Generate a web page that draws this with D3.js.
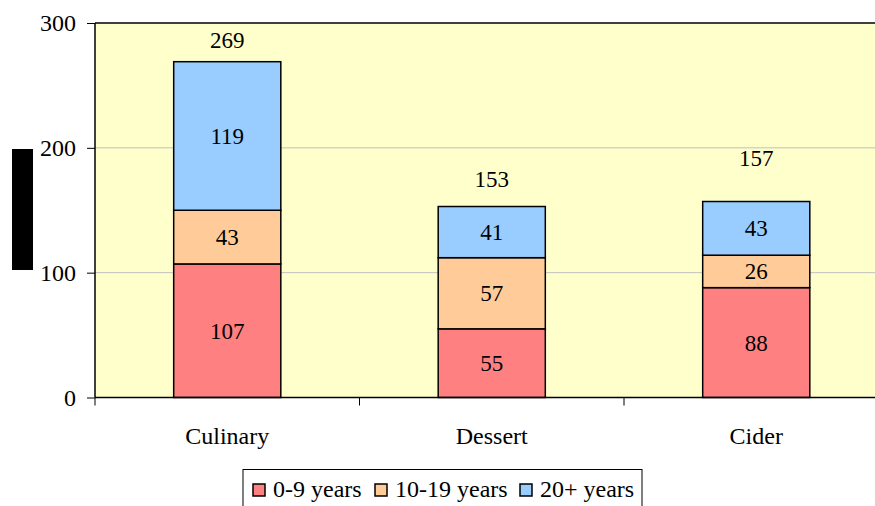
<!DOCTYPE html>
<html>
<head>
<meta charset="UTF-8"/>
<script src="https://d3js.org/d3.v7.min.js"></script>
</head>
<body style="margin:0">
<svg id="chart" width="875" height="506"></svg>
<script>
// chart data
var categories = ["Culinary", "Dessert", "Cider"];
var seriesNames = ["0-9 years", "10-19 years", "20+ years"];
var young = [107, 55, 88];
var middle = [43, 57, 26];
var old = [119, 41, 43];
var totals = [269, 153, 157];
var yTicks = [0, 100, 200, 300];

var colors = ["#FF8080", "#FFCC99", "#99CCFF"];
// how far above each bar top the total label sits (px)
var totalGap = [22, 28, 44];
var FONT = "Liberation Serif";

var svg = d3.select("#chart");
var plotL = 95, plotT = 23, plotB = 397.5, plotR = 888.5;

var x = d3.scaleBand().domain(categories).range([plotL, plotR]).paddingInner(0).paddingOuter(0);
var y = d3.scaleLinear().domain([0, 300]).range([plotB, plotT]);
var barW = x.bandwidth() * 0.405;

// helper: plain text straight on the svg
function label(px, py, str, size, anchor) {
  return svg.append("text")
    .attr("x", px).attr("y", py)
    .attr("font-family", FONT)
    .attr("font-size", size)
    .attr("text-anchor", anchor || "start")
    .text(str);
}

// plot background
svg.append("rect")
  .attr("x", plotL).attr("y", plotT)
  .attr("width", 875 - plotL).attr("height", plotB - plotT)
  .attr("fill", "#FFFFCC");

// gridlines
svg.selectAll(".grid").data(yTicks.filter(function(d){ return d > 0 && d < 300; }))
  .enter().append("line")
  .attr("x1", plotL).attr("x2", 875)
  .attr("y1", function(d){ return y(d); }).attr("y2", function(d){ return y(d); })
  .attr("stroke", "#c0c0c0").attr("stroke-width", 1);

// top border
svg.append("line").attr("x1", plotL).attr("x2", 875)
  .attr("y1", plotT).attr("y2", plotT).attr("stroke", "#000").attr("stroke-width", 1.5);

// stacked bars
var rows = categories.map(function(c, i){
  return { a: young[i], b: middle[i], c: old[i] };
});
var layers = d3.stack().keys(["a", "b", "c"])(rows);

layers.forEach(function(layer, li){
  layer.forEach(function(seg, ci){
    var cx = x(categories[ci]) + x.bandwidth() / 2;
    svg.append("rect")
      .attr("x", cx - barW / 2)
      .attr("y", y(seg[1]))
      .attr("width", barW)
      .attr("height", y(seg[0]) - y(seg[1]))
      .attr("fill", colors[li])
      .attr("stroke", "#000").attr("stroke-width", 1.5);
  });
});

// y axis (ticks and line only; labels drawn as plain text)
var yAxis = d3.axisLeft(y).tickValues(yTicks).tickSize(8).tickFormat("");
var ya = svg.append("g").attr("transform", "translate(" + plotL + ",0)").call(yAxis);
ya.select(".domain").attr("stroke", "#000").attr("stroke-width", 1.5).attr("d", "M0," + plotT + "V" + plotB);
ya.selectAll(".tick line").attr("stroke", "#000");
ya.selectAll(".tick text").remove();

// x axis line with boundary ticks
var xAxis = d3.axisBottom(x).tickSize(0).tickFormat("");
var xa = svg.append("g").attr("transform", "translate(0," + plotB + ")").call(xAxis);
xa.select(".domain").attr("stroke", "#000").attr("stroke-width", 1.5).attr("d", "M" + plotL + ",0H875");
xa.selectAll(".tick text").remove();
xa.selectAll(".bound").data(categories).enter().append("line")
  .attr("x1", function(d){ return x(d); }).attr("x2", function(d){ return x(d); })
  .attr("y1", 0).attr("y2", 8).attr("stroke", "#000").attr("stroke-width", 1);

// tick labels
yTicks.forEach(function(t){ label(plotL - 19, y(t) + 8, t, 24, "end"); });
categories.forEach(function(c){ label(x(c) + x.bandwidth() / 2, plotB + 46, c, 24, "middle"); });

// segment values
layers.forEach(function(layer){
  layer.forEach(function(seg, ci){
    label(x(categories[ci]) + x.bandwidth() / 2, (y(seg[0]) + y(seg[1])) / 2 + 8, seg[1] - seg[0], 23, "middle");
  });
});

// totals above bars
categories.forEach(function(c, i){
  label(x(c) + x.bandwidth() / 2, y(totals[i]) - totalGap[i] + 8, totals[i], 23, "middle");
});

// y axis title placeholder (black block)
svg.append("rect").attr("x", 12).attr("y", 149).attr("width", 21).attr("height", 121).attr("fill", "#000");

// legend
svg.append("rect").attr("x", 243).attr("y", 469.5).attr("width", 399).attr("height", 50)
  .attr("fill", "#fff").attr("stroke", "#000").attr("stroke-width", 1);
var legX = [253, 375, 520];
seriesNames.forEach(function(n, i){
  svg.append("rect").attr("x", legX[i]).attr("y", 484).attr("width", 12).attr("height", 12)
    .attr("fill", colors[i]).attr("stroke", "#000").attr("stroke-width", 1.5);
  label(legX[i] + 20, 497, n, 24);
});
</script>
</body>
</html>
